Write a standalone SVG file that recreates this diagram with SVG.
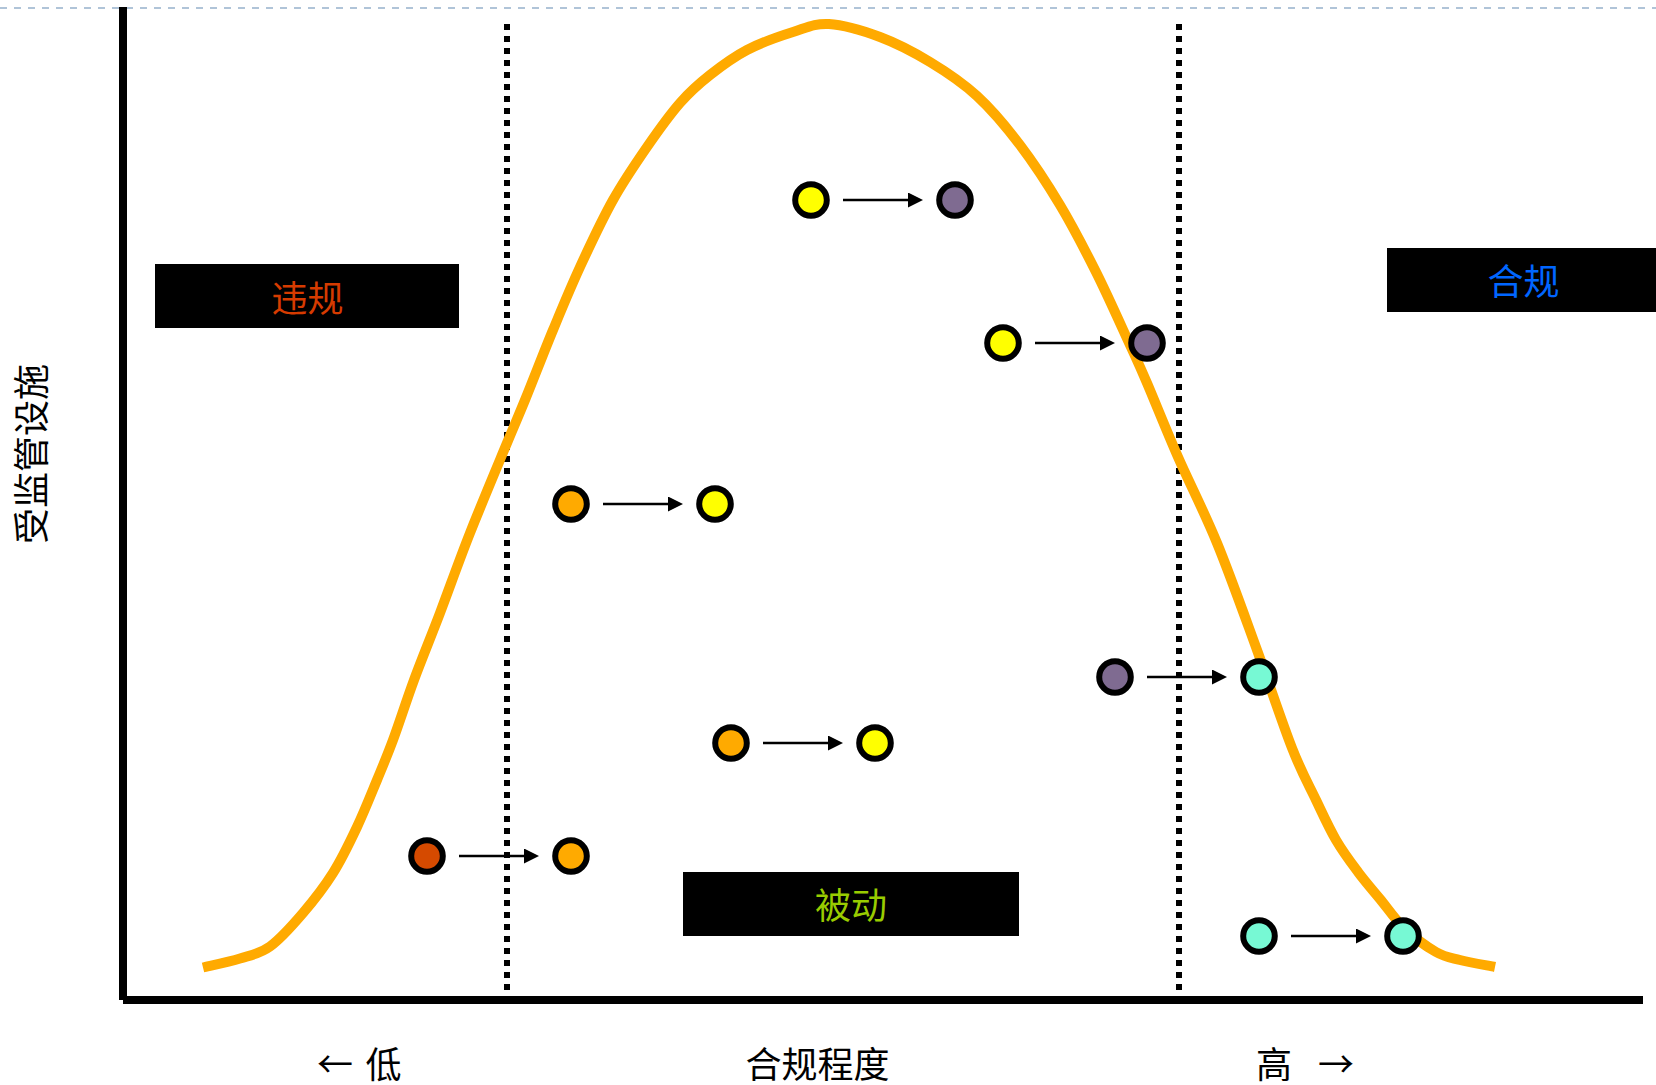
<svg xmlns="http://www.w3.org/2000/svg" width="1656" height="1085" viewBox="0 0 1656 1085">
<style>
.lbl{font-family:"Noto Sans CJK SC","Noto Sans",sans-serif;font-size:36px;text-anchor:middle;dominant-baseline:central}
.ax{fill:#000}
.dot{stroke:#000;stroke-width:6}
.arr{stroke:#000;stroke-width:2.3;fill:none}
.yel{fill:#FFFF00}.pur{fill:#7F6B91}.org{fill:#FFAA00}.red{fill:#D54A00}.cyn{fill:#77F9D4}
.sep{stroke:#000;stroke-width:6;stroke-dasharray:6 6;fill:none}
</style>
<defs>
<marker id="ah" viewBox="0 0 15 15" refX="7" refY="7.5" markerWidth="15" markerHeight="15" markerUnits="userSpaceOnUse" orient="auto">
<path d="M0,0 L15,7.5 L0,15 Z" fill="#000"/>
</marker>
</defs>
<rect width="1656" height="1085" fill="#fff"/>
<line x1="0" y1="8" x2="1656" y2="8" stroke="#B0C4D8" stroke-width="2" stroke-dasharray="7 7"/>
<g id="axes">
<rect class="ax" x="119" y="7" width="8" height="993"/>
<rect class="ax" x="123" y="996" width="1520" height="8"/>
</g>
<g id="separators">
<line class="sep" x1="507" y1="24" x2="507" y2="990"/>
<line class="sep" x1="1179" y1="24" x2="1179" y2="990"/>
</g>
<g id="curve">
<path d="M203,967.5 C209.2,966 228.8,962 240,958.5 S259.5,954.1 270,946.5 S292.5,925.3 303,913 S324,887.3 333,873 S349.7,842.5 357,827 S371,794.5 377,780 S386.8,756.7 393,740 S406.2,701.2 414,680 S430.7,637.5 440,613 S458.8,561.3 470,533 S497.8,465.2 507,443 S517.3,418.8 525,400 S543.8,352.2 553,330 S570,288.7 580,267 S601.8,220 613,200 S635.8,163.2 647,147 S669.5,115 680,103 S698.8,83.8 710,75 S733.2,57.2 747,50 S779.3,36.3 793,32 S814.5,23.2 829,24 S863.2,30.7 880,37 S913.8,52.2 930,62 S962,82.2 977,96 S1006.2,126.8 1020,145 S1047.3,183.8 1060,205 S1084.3,248.7 1096,272 S1121.5,326.5 1130,345 S1139,364.3 1147,383 S1166.3,430.3 1178,457 S1203.8,510.8 1217,543 S1244.5,615.8 1257,650 S1282.2,723 1292,748 S1308.7,784.7 1316,800 S1329,828 1336,840 S1350.7,862.2 1358,872 S1372.3,889.7 1380,899 S1394.7,919.2 1404,928 S1426.7,946.7 1436,952 S1450.2,957.5 1460,960 S1489.2,965.8 1495,967" fill="none" stroke="#FFAA00" stroke-width="10"/>
</g>
<g id="connectors">
<line class="arr" x1="843" y1="200" x2="915" y2="200" marker-end="url(#ah)"/>
<line class="arr" x1="1035" y1="343" x2="1107" y2="343" marker-end="url(#ah)"/>
<line class="arr" x1="603" y1="504" x2="675" y2="504" marker-end="url(#ah)"/>
<line class="arr" x1="1147" y1="677" x2="1219" y2="677" marker-end="url(#ah)"/>
<line class="arr" x1="763" y1="743" x2="835" y2="743" marker-end="url(#ah)"/>
<line class="arr" x1="459" y1="856" x2="531" y2="856" marker-end="url(#ah)"/>
<line class="arr" x1="1291" y1="936" x2="1363" y2="936" marker-end="url(#ah)"/>
</g>
<g id="n1a"><circle class="dot yel" cx="811" cy="200" r="15.8"/></g>
<g id="n1b"><circle class="dot pur" cx="955" cy="200" r="15.8"/></g>
<g id="n2a"><circle class="dot yel" cx="1003" cy="343" r="15.8"/></g>
<g id="n2b"><circle class="dot pur" cx="1147" cy="343" r="15.8"/></g>
<g id="n3a"><circle class="dot org" cx="571" cy="504" r="15.8"/></g>
<g id="n3b"><circle class="dot yel" cx="715" cy="504" r="15.8"/></g>
<g id="n4a"><circle class="dot pur" cx="1115" cy="677" r="15.8"/></g>
<g id="n4b"><circle class="dot cyn" cx="1259" cy="677" r="15.8"/></g>
<g id="n5a"><circle class="dot org" cx="731" cy="743" r="15.8"/></g>
<g id="n5b"><circle class="dot yel" cx="875" cy="743" r="15.8"/></g>
<g id="n6a"><circle class="dot red" cx="427" cy="856" r="15.8"/></g>
<g id="n6b"><circle class="dot org" cx="571" cy="856" r="15.8"/></g>
<g id="n7a"><circle class="dot cyn" cx="1259" cy="936" r="15.8"/></g>
<g id="n7b"><circle class="dot cyn" cx="1403" cy="936" r="15.8"/></g>
<g id="box-violation">
<rect x="155" y="264" width="304" height="64" fill="#000"/>
<text class="lbl" x="307.5" y="295.5" fill="#D63B00">违规</text>
</g>
<g id="box-compliant">
<rect x="1387" y="248" width="269" height="64" fill="#000"/>
<text class="lbl" x="1523.5" y="279" fill="#0066FF">合规</text>
</g>
<g id="box-passive">
<rect x="683" y="872" width="336" height="64" fill="#000"/>
<text class="lbl" x="851" y="903" fill="#99CC00">被动</text>
</g>
<g id="axis-labels">
<text class="lbl" transform="translate(29,454) rotate(-90)" fill="#000">受监管设施</text>
<text class="lbl" y="1062" fill="#000"><tspan x="339">←</tspan> <tspan x="383.5">低</tspan></text>
<text class="lbl" x="817.5" y="1062" fill="#000">合规程度</text>
<text class="lbl" y="1062" fill="#000"><tspan x="1278">高</tspan> <tspan x="1336">→</tspan></text>
</g>
</svg>
